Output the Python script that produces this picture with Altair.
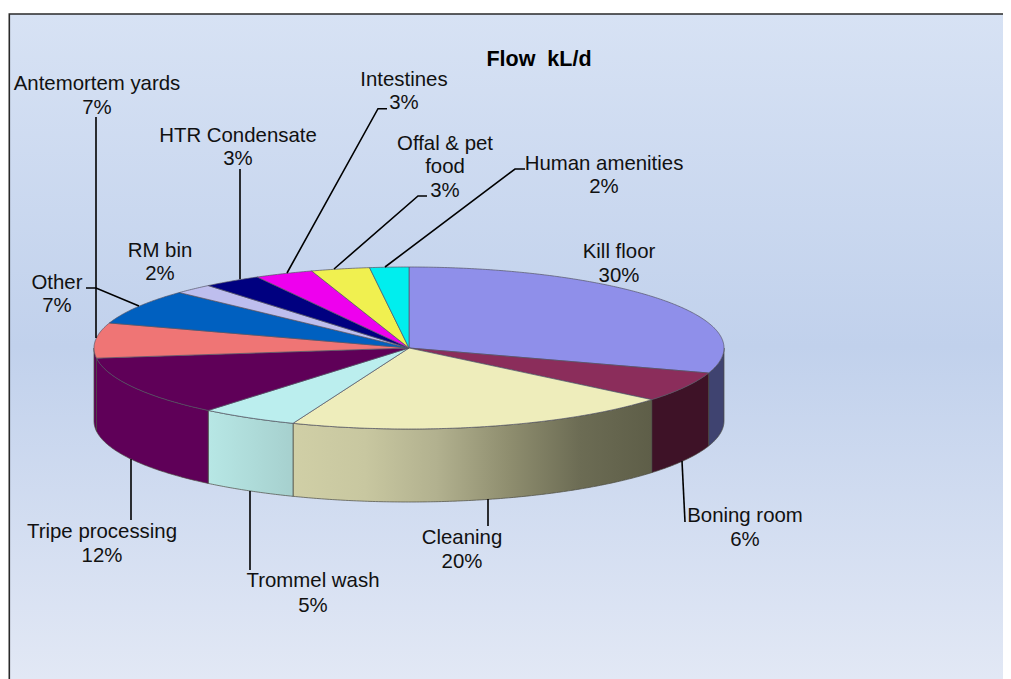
import math
import altair as alt

# ---- data ----
categories = ["Kill floor", "Boning room", "Cleaning", "Trommel wash", "Tripe processing",
              "Antemortem yards", "Other", "RM bin", "HTR Condensate", "Intestines",
              "Offal & pet food", "Human amenities"]
values = [30, 6, 20, 5, 12, 7, 7, 2, 3, 3, 3, 2]
title_text = "Flow\u00a0 kL/d"

# ---- styles ----
top_colors = ["#8F8FEA", "#8B2D5B", "#EEEDBB", "#BBEEEE", "#5F0058", "#EF7575",
              "#0060C0", "#BEBEEE", "#000080", "#EE00EE", "#F0F050", "#00EEEE"]
wall_stops = [["#3F4370", "#3F4370"], ["#3E1227", "#3E1227"],
              ["#D0CFA6", "#C8C7A0", "#B2B18F", "#8F8E6F", "#6C6C54", "#5E5E48"],
              ["#B7E7E5", "#A6D0CE"], ["#5F0058", "#5F0058"], ["#5F0058", "#5F0058"],
              None, None, None, None, None, None]

# ---- layout (page pixels) ----
FONT = "Liberation Sans"
W, H = 995, 671
CX, CY, RX, RY, DEPTH = 409, 348, 315, 81, 73
label_lines = [["Kill floor"], ["Boning room"], ["Cleaning"], ["Trommel wash"], ["Tripe processing"],
               ["Antemortem yards"], ["Other"], ["RM bin"], ["HTR Condensate"], ["Intestines"],
               ["Offal & pet", "food"], ["Human amenities"]]
label_cx = [619, 745, 462, 313, 102, 97, 57, 160, 238, 404, 445, 604]
label_base = [[258, 282], [522, 546], [544, 568], [587, 612], [538, 562], [90, 114],
              [289, 312], [257, 280], [142, 165], [86, 109], [150, 173, 197], [170, 193]]
leaders = [
    [(682, 461), (685, 522)],
    [(488, 499), (488, 526)],
    [(250, 491), (250, 570)],
    [(131, 459), (131, 520)],
    [(96, 117), (96, 338)],
    [(86, 288), (96, 288), (139, 306)],
    [(240, 169), (240, 279)],
    [(387, 108.7), (378, 108.7), (287, 273)],
    [(427, 196), (418, 196), (334, 269)],
    [(525, 169), (515, 169), (385, 267)],
]


def pt(theta, dy=0):
    r = math.radians(theta)
    return [CX + RX * math.sin(r), CY - RY * math.cos(r) + dy]


def arc(a, b, dy=0):
    n = max(2, int(abs(b - a) * 2) + 1)
    return [pt(a + (b - a) * i / (n - 1), dy) for i in range(n)]


def feature(ring, **props):
    return {"type": "Feature", "properties": props,
            "geometry": {"type": "Polygon", "coordinates": [ring + [ring[0]]]}}


projection = alt.Projection(type="identity", scale=1, translate=[-8, -8])
xs = alt.X("x:Q", scale=alt.Scale(domain=[8, 8 + W], range=[0, W], nice=False, zero=False), axis=None)
ys = alt.Y("y:Q", scale=alt.Scale(domain=[8, 8 + H], range=[0, H], nice=False, zero=False), axis=None)

# angles of every slice from its share
edges = [0]
for v in values:
    edges.append(edges[-1] + v * 360 / sum(values))

layers = []

# background + frame
bg = alt.Chart(alt.Data(values=[{"x": 9, "x2": 8 + W, "y": 14, "y2": 8 + H}])).mark_rect(
    fill=alt.Gradient(gradient="linear", x1=0, y1=0, x2=0, y2=1, stops=[
        alt.GradientStop(color="#D7E2F4", offset=0),
        alt.GradientStop(color="#C1D1EC", offset=0.5),
        alt.GradientStop(color="#E2E8F5", offset=1)])
).encode(x=xs, x2="x2:Q", y=ys, y2="y2:Q")
layers.append(bg)

frame = alt.Chart(alt.Data(values=[{"g": 0, "o": 0, "x": 9.3, "y": 8 + H}, {"g": 0, "o": 1, "x": 9.3, "y": 14},
                                   {"g": 0, "o": 2, "x": 8 + W, "y": 14}])).mark_line(
    color="#2A2A2A", strokeWidth=1.6, strokeJoin="miter").encode(x=xs, y=ys, order="o:Q")
layers.append(frame)

# walls: only the front half of the rim shows
for i, stops in enumerate(wall_stops):
    a, b = max(edges[i], 90), min(edges[i + 1], 270)
    if stops is None or b <= a:
        continue
    ring = arc(a, b) + arc(b, a, DEPTH)
    # colours are listed left to right
    fill = alt.Gradient(gradient="linear", x1=0, y1=0, x2=1, y2=0, stops=[
        alt.GradientStop(color=c, offset=k / (len(stops) - 1)) for k, c in enumerate(stops)])
    layers.append(alt.Chart(alt.Data(values=[feature(ring, name=categories[i])])).mark_geoshape(
        fill=fill, stroke="#4A4A40", strokeWidth=0.7).project(**projection.to_dict()))

# top face
tops = [feature([[CX, CY]] + arc(edges[i], edges[i + 1]), name=categories[i], color=top_colors[i])
        for i in range(len(values))]
layers.append(alt.Chart(alt.Data(values=tops)).mark_geoshape(strokeWidth=0.7, stroke="#555566").encode(
    fill=alt.Fill("properties.color:N", scale=None)).project(**projection.to_dict()))

# leader lines
rows = []
for g, pts in enumerate(leaders):
    for o, (x, y) in enumerate(pts):
        rows.append({"g": g, "o": o, "x": x, "y": y})
layers.append(alt.Chart(alt.Data(values=rows)).mark_line(color="#000000", strokeWidth=1.6).encode(
    x=xs, y=ys, detail="g:N", order="o:Q"))

# labels
text_rows = []
for i, v in enumerate(values):
    lines = label_lines[i] + [f"{v}%"]
    for t, base in zip(lines, label_base[i]):
        text_rows.append({"t": t, "x": label_cx[i], "y": base})
layers.append(alt.Chart(alt.Data(values=text_rows)).mark_text(
    font=FONT, fontSize=20.4, color="#111111", align="center", baseline="alphabetic").encode(
    x=xs, y=ys, text="t:N"))
layers.append(alt.Chart(alt.Data(values=[{"t": title_text, "x": 539, "y": 66}])).mark_text(
    font=FONT, fontSize=21.5, fontWeight="bold", color="#000000", align="center", baseline="alphabetic").encode(
    x=xs, y=ys, text="t:N"))

chart = alt.layer(*layers).properties(
    width=W, height=H, padding=0, background="white",
    autosize=alt.AutoSizeParams(type="none")
).configure_view(stroke=None)

chart.save("out.html", embed_options={"renderer": "svg", "actions": False})
